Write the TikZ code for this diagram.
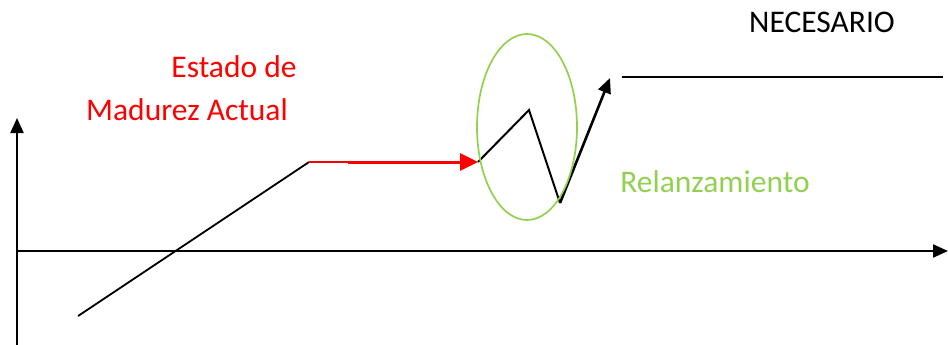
\documentclass[tikz,border=0pt]{standalone}
\usepackage{fontspec}
\setmainfont{Carlito}
\usetikzlibrary{arrows.meta,shapes.geometric}
\definecolor{lgreen}{HTML}{92D050}
\begin{document}
\begin{tikzpicture}[x=1pt,y=-1pt,
  ln/.style={line width=2.2pt,black},
  tip/.style={-{Triangle[length=15pt,width=13pt]}},
  lbl/.style={font=\fontsize{31.5}{36}\selectfont,inner sep=0pt}]
\useasboundingbox (0,0) rectangle (948,345);
% axes
\coordinate (yb) at (17,345);
\coordinate (yt) at (17,118);
\coordinate (xl) at (17,251);
\coordinate (xr) at (948,251);
\draw[ln,tip] (yb) -- (yt);
\draw[ln,tip] (xl) -- (xr);
% rising line
\coordinate (p0) at (78,316);
\coordinate (p1) at (309,162);
\coordinate (p2) at (348,162);
\coordinate (p3) at (478,162);
\coordinate (p4) at (529,110);
\coordinate (p5) at (560,203);
\coordinate (p6) at (610,78);
\draw[line width=1.8pt] (p0) -- (p1);
\draw[red,line width=1.6pt] (p1) -- (p2);
\draw[red,line width=3pt,-{Triangle[length=18pt,width=17pt]}] (p2) -- (p3);
\draw[line width=2pt,line join=miter] (p3) -- (p4) -- (p5);
\draw[line width=2.6pt,tip] (p5) -- (p6);
% ellipse
\node[draw=lgreen,line width=1.7pt,ellipse,minimum width=100pt,minimum height=186pt,inner sep=0pt] (ell) at (527,127) {};
% required level
\coordinate (n0) at (622,77);
\coordinate (n1) at (943,77);
\draw[line width=1.8pt] (n0) -- (n1);
% texts
\node[lbl] (nec) at (822,22) {NECESARIO};
\node[lbl,red] (est1) at (234,67) {Estado de};
\node[lbl,red] (est2) at (187,110) {Madurez Actual};
\node[lbl,lgreen] (rel) at (715,182) {Relanzamiento};
\end{tikzpicture}
\end{document}
